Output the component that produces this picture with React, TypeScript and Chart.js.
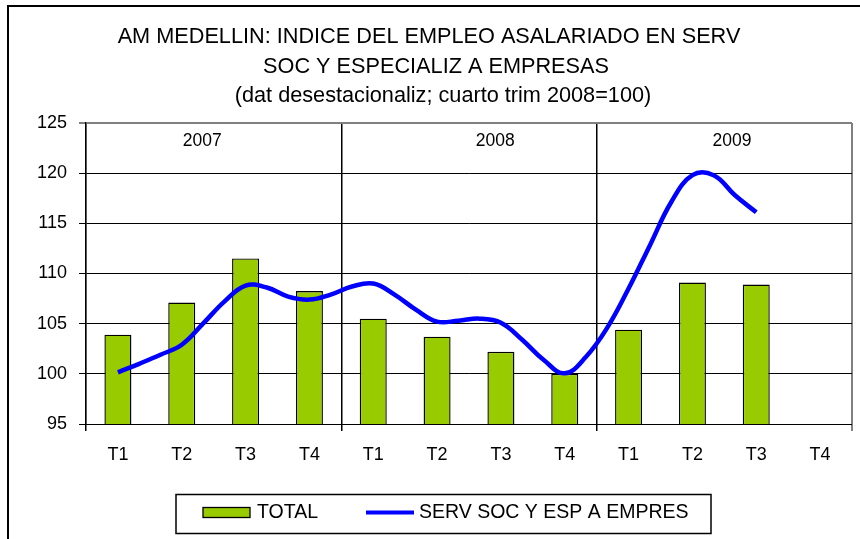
import React, { useEffect, useRef } from 'react';
import { Chart, registerables } from 'chart.js';

Chart.register(...registerables);

// ---- data ----
const quarterLabels = ['T1', 'T2', 'T3', 'T4', 'T1', 'T2', 'T3', 'T4', 'T1', 'T2', 'T3', 'T4'];
const yearLabels = ['2007', '2008', '2009'];
const totalValues: (number | null)[] = [103.9, 107.1, 111.5, 108.25, 105.5, 103.7, 102.2, 100.0, 104.4, 109.1, 108.9, null];
// monthly readings of the smoothed series (three per quarter, from T1 2007 to T3 2009)
const servMonthly = [
  100.15, 101.0, 101.9, 102.9, 105.0, 107.2, 108.8, 108.6, 107.7, 107.4,
  107.9, 108.7, 109.0, 107.9, 106.4, 105.2, 105.3, 105.5, 105.1, 103.4,
  101.4, 100.05, 101.7, 104.6, 108.5, 112.8, 117.1, 119.8, 119.8, 117.8,
  116.1,
];
const titleLines = [
  'AM MEDELLIN: INDICE DEL EMPLEO ASALARIADO EN SERV',
  'SOC Y ESPECIALIZ A EMPRESAS',
  '(dat desestacionaliz; cuarto trim 2008=100)',
];
const seriesNames = ['TOTAL', 'SERV SOC Y ESP A EMPRES'];

const FONT = '"Liberation Sans", Arial, sans-serif';
const GREEN = '#99CC00';
const BLUE = '#0000FF';

const decorPlugin = {
  id: 'decor',
  afterDraw(chart: any) {
    const { ctx, scales } = chart;
    ctx.save();
    // outer frame
    ctx.strokeStyle = '#000';
    ctx.lineWidth = 2;
    ctx.strokeRect(8, 6, 900, 600);

    // title
    ctx.fillStyle = '#000';
    ctx.font = `21.7px ${FONT}`;
    ctx.textAlign = 'center';
    ctx.textBaseline = 'middle';
    const tx = [429, 436, 443];
    const ty = [37, 67, 96];
    titleLines.forEach((t, i) => ctx.fillText(t, tx[i], ty[i]));

    // year labels inside plot
    ctx.font = `17.5px ${FONT}`;
    const yearPos = [1.32, 5.91, 9.62];
    yearLabels.forEach((y, i) => {
      ctx.fillText(y, scales.x2.getPixelForValue(yearPos[i]), 141);
    });

    // legend
    ctx.lineWidth = 1.5;
    ctx.strokeStyle = '#000';
    ctx.strokeRect(176, 494.5, 535, 39);
    ctx.fillStyle = GREEN;
    ctx.fillRect(203, 507.5, 47, 10);
    ctx.lineWidth = 1.3;
    ctx.strokeRect(203, 507.5, 47, 10);
    ctx.fillStyle = '#000';
    ctx.font = `19.5px ${FONT}`;
    ctx.textAlign = 'left';
    ctx.fillText(seriesNames[0], 257, 513);
    ctx.strokeStyle = BLUE;
    ctx.lineWidth = 4;
    ctx.beginPath();
    ctx.moveTo(366, 512.5);
    ctx.lineTo(414, 512.5);
    ctx.stroke();
    ctx.fillText(seriesNames[1], 419, 513);
    ctx.restore();
  },
};

export default function App() {
  const ref = useRef<HTMLCanvasElement>(null);
  useEffect(() => {
    if (!ref.current) return;
    const chart = new Chart(ref.current, {
      type: 'bar',
      data: {
        labels: quarterLabels,
        datasets: [
          {
            type: 'line',
            label: seriesNames[1],
            data: servMonthly.map((v, k) => ({ x: k / 3, y: v })),
            xAxisID: 'x2',
            borderColor: BLUE,
            borderWidth: 4.5,
            pointRadius: 0,
            tension: 0.4,
            fill: false,
            order: 0,
          } as any,
          {
            type: 'bar',
            label: seriesNames[0],
            data: totalValues,
            xAxisID: 'x',
            backgroundColor: GREEN,
            borderColor: '#000',
            borderWidth: 1.4,
            grouped: false,
            categoryPercentage: 1,
            barPercentage: 0.423,
            order: 1,
          },
        ],
      },
      options: {
        responsive: false,
        animation: false,
        layout: { padding: { left: 0, right: 8, top: 123, bottom: 0 } },
        plugins: {
          legend: { display: false },
          title: { display: false },
          tooltip: { enabled: false },
        },
        scales: {
          x: {
            type: 'category',
            offset: true,
            grid: {
              offset: true,
              tickLength: 7,
              color: (c: any) =>
                c.index === undefined ? '#808080' : c.index % 4 === 0 ? '#000' : 'rgba(0,0,0,0)',
              lineWidth: (c: any) => (c.index === undefined ? 2 : 1.5),
            },
            border: { display: true, color: '#000', width: 1 },
            ticks: {
              color: '#000',
              font: { family: FONT, size: 18 },
              padding: 13,
              maxRotation: 0,
              autoSkip: false,
            },
            afterFit: (s: any) => {
              s.height = 115;
            },
          },
          x2: {
            type: 'linear',
            display: false,
            offset: false,
            bounds: 'ticks',
            min: -0.5,
            max: 11.5,
          },
          y: {
            min: 95,
            max: 125,
            ticks: {
              stepSize: 5,
              color: '#000',
              font: { family: FONT, size: 18 },
              padding: 12,
            },
            grid: {
              tickLength: 7,
              color: (c: any) => (c.tick && c.tick.value === 125 ? '#808080' : '#000'),
              lineWidth: (c: any) => (c.tick && c.tick.value === 125 ? 2 : 1),
            },
            border: { display: true, color: '#000', width: 1.3 },
            afterFit: (s: any) => {
              s.width = 86;
            },
          },
        },
      },
      plugins: [decorPlugin],
    });
    return () => chart.destroy();
  }, []);
  return (
    <div style={{ position: 'absolute', left: 0, top: 0, width: 860, height: 539, background: '#fff' }}>
      <canvas ref={ref} width={860} height={539} style={{ display: 'block' }} />
    </div>
  );
}
